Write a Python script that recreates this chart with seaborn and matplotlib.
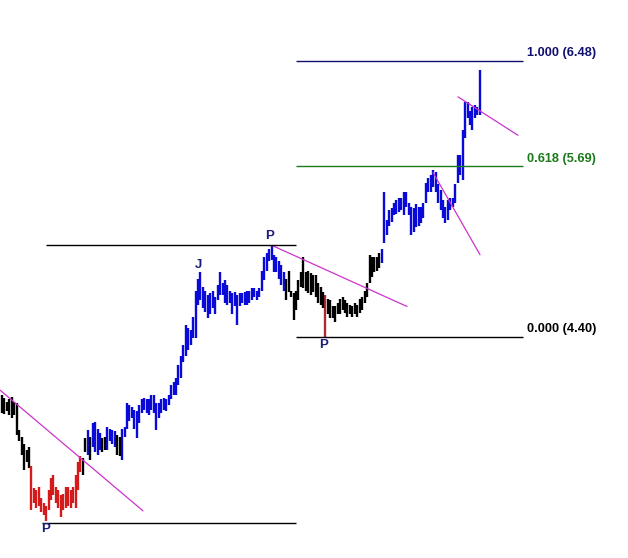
import numpy as np
import pandas as pd
import matplotlib
matplotlib.use("Agg")
import matplotlib.pyplot as plt
import seaborn as sns

# ---------------- data ----------------
highs = [3.96, 3.94, 3.91, 3.93, 3.95, 3.91, 3.90, 3.70, 3.65, 3.59, 3.55, 3.57,
         3.43, 3.26, 3.25, 3.27, 3.19, 3.15, 3.13, 3.25, 3.34, 3.36, 3.27, 3.25,
         3.21, 3.22, 3.27, 3.27, 3.25, 3.27, 3.36, 3.46, 3.50, 3.49, 3.64, 3.70,
         3.65, 3.75, 3.76, 3.71, 3.68, 3.64, 3.65, 3.72, 3.71, 3.70, 3.69, 3.66,
         3.65, 3.71, 3.72, 3.90, 3.89, 3.87, 3.85, 3.84, 3.89, 3.93, 3.94, 3.93,
         3.93, 3.96, 3.96, 3.90, 3.90, 3.93, 3.94, 3.93, 3.96, 4.04, 4.06, 4.09,
         4.19, 4.26, 4.34, 4.49, 4.47, 4.45, 4.55, 4.75, 4.84, 4.89, 4.78, 4.75,
         4.72, 4.73, 4.75, 4.70, 4.79, 4.89, 4.81, 4.83, 4.79, 4.75, 4.73, 4.74,
         4.72, 4.73, 4.73, 4.74, 4.75, 4.75, 4.77, 4.77, 4.75, 4.77, 4.90, 5.00,
         5.03, 5.06, 5.09, 5.02, 5.00, 4.97, 4.94, 4.89, 4.84, 4.90, 4.75, 4.73,
         4.75, 4.83, 4.89, 5.00, 4.89, 4.90, 4.88, 4.87, 4.87, 4.81, 4.78, 4.74,
         4.72, 4.69, 4.68, 4.63, 4.63, 4.66, 4.69, 4.70, 4.68, 4.66, 4.64, 4.63,
         4.66, 4.64, 4.69, 4.70, 4.75, 4.81, 5.02, 5.00, 5.00, 5.00, 5.03, 5.06,
         5.49, 5.28, 5.36, 5.37, 5.41, 5.43, 5.45, 5.45, 5.49, 5.49, 5.41, 5.38,
         5.37, 5.40, 5.38, 5.38, 5.41, 5.56, 5.60, 5.62, 5.66, 5.64, 5.55, 5.51,
         5.43, 5.38, 5.43, 5.45, 5.45, 5.55, 5.77, 5.77, 5.96, 6.17, 6.17, 6.10,
         6.13, 6.15, 6.13, 6.41]
lows = [3.83, 3.82, 3.84, 3.81, 3.79, 3.81, 3.66, 3.62, 3.51, 3.40, 3.46, 3.41,
        3.10, 3.15, 3.11, 3.13, 3.08, 3.06, 3.01, 3.10, 3.17, 3.21, 3.15, 3.11,
        3.04, 3.10, 3.11, 3.13, 3.11, 3.15, 3.11, 3.25, 3.38, 3.36, 3.53, 3.51,
        3.47, 3.57, 3.53, 3.51, 3.55, 3.53, 3.55, 3.55, 3.62, 3.59, 3.57, 3.51,
        3.50, 3.47, 3.65, 3.71, 3.77, 3.79, 3.71, 3.64, 3.75, 3.83, 3.85, 3.83,
        3.81, 3.85, 3.83, 3.70, 3.79, 3.83, 3.85, 3.84, 3.89, 3.93, 3.96, 3.96,
        4.04, 4.09, 4.21, 4.26, 4.30, 4.34, 4.39, 4.39, 4.64, 4.68, 4.62, 4.59,
        4.54, 4.57, 4.62, 4.57, 4.68, 4.72, 4.72, 4.66, 4.64, 4.66, 4.57, 4.63,
        4.49, 4.63, 4.66, 4.64, 4.64, 4.66, 4.68, 4.70, 4.68, 4.70, 4.75, 4.83,
        4.90, 4.97, 4.98, 4.89, 4.89, 4.84, 4.79, 4.75, 4.68, 4.74, 4.70, 4.53,
        4.60, 4.68, 4.78, 4.77, 4.75, 4.73, 4.72, 4.74, 4.70, 4.66, 4.64, 4.62,
        4.39, 4.57, 4.54, 4.54, 4.51, 4.57, 4.57, 4.60, 4.58, 4.55, 4.57, 4.55,
        4.57, 4.55, 4.58, 4.60, 4.66, 4.70, 4.81, 4.85, 4.89, 4.90, 4.92, 4.96,
        5.11, 5.17, 5.24, 5.27, 5.32, 5.33, 5.34, 5.36, 5.32, 5.38, 5.32, 5.17,
        5.19, 5.23, 5.24, 5.26, 5.30, 5.41, 5.49, 5.49, 5.53, 5.49, 5.41, 5.36,
        5.30, 5.26, 5.28, 5.36, 5.38, 5.41, 5.56, 5.62, 5.58, 5.90, 6.05, 6.00,
        5.96, 6.05, 6.07, 6.07]
# bar colour codes: k = black, b = blue, r = red, d = dark red (pivot bar)
bar_codes = ("k" * 12 + "r" * 21 + "k" * 2 + "b" + "k" + "b" * 4 + "k" * 2 +
             "b" * 4 + "k" * 2 + "b" * 67 + "k" * 16 + "d" + "k" * 22 + "b" * 41)

fib_ratios = [1.000, 0.618, 0.000]
fib_prices = [6.48, 5.685, 4.40]
fib_labels = ["1.000 (6.48)", "0.618 (5.69)", "0.000 (4.40)"]
fib_start, fib_end = 120, 212.7

support_price, support_start, support_end = 3.00, 16.3, 120
resist_price, resist_start, resist_end = 5.09, 18.0, 120

trend_x = [[-0.82, 57.55], [110.2, 165.3], [175.9, 195.1], [186.1, 210.6]]
trend_y = [[4.00, 3.09], [5.09, 4.63], [5.64, 5.02], [6.21, 5.92]]

marks_text = ["P", "P", "P", "J"]
marks_x = [17.6, 109.4, 131.4, 80.0]
marks_y = [2.95, 5.16, 4.34, 4.94]

# ---------------- plot ----------------
sns.set_style("white")
plt.rcParams["font.family"] = ["Liberation Sans", "DejaVu Sans"]

fig = plt.figure(figsize=(6.28, 5.58), dpi=100)
ax = fig.add_axes([0, 0, 1, 1])

df = pd.DataFrame({"idx": np.arange(len(highs)), "high": highs,
                   "low": lows, "code": list(bar_codes)})
palette = {"k": "#000000", "b": "#0a0ad8", "r": "#d41a1a", "d": "#b02a2a"}
for code, grp in df.groupby("code"):
    ax.vlines(grp["idx"], grp["low"], grp["high"], color=palette[code],
              linewidth=1.7)

# trend lines
for tx, ty in zip(trend_x, trend_y):
    sns.lineplot(x=tx, y=ty, ax=ax, color="#cc33cc", linewidth=0.9,
                 estimator=None, sort=False)

# horizontal levels
ax.hlines(support_price, support_start, support_end, color="black", linewidth=1)
ax.hlines(resist_price, resist_start, resist_end, color="black", linewidth=1)
fib_colors = ["#101070", "#1a7a1a", "#000000"]
label_offsets = [0.06, 0.06, 0.06]
for p, lab, c, off in zip(fib_prices, fib_labels, fib_colors, label_offsets):
    ax.hlines(p, fib_start, fib_end, color=c, linewidth=1)
    ax.text(fib_end + 1.6, p + off, lab, color=c, fontsize=9.2,
            fontweight="bold", va="center", ha="left")

for t, x, y in zip(marks_text, marks_x, marks_y):
    ax.text(x, y, t, color="#1c1c7c", fontsize=9.5, fontweight="bold",
            ha="center", va="center")

ax.set_xlim(-0.816, 255.5)
ax.set_ylim(2.7346, 6.9396)
ax.axis("off")
fig.savefig("out.png", dpi=100, facecolor="white")
